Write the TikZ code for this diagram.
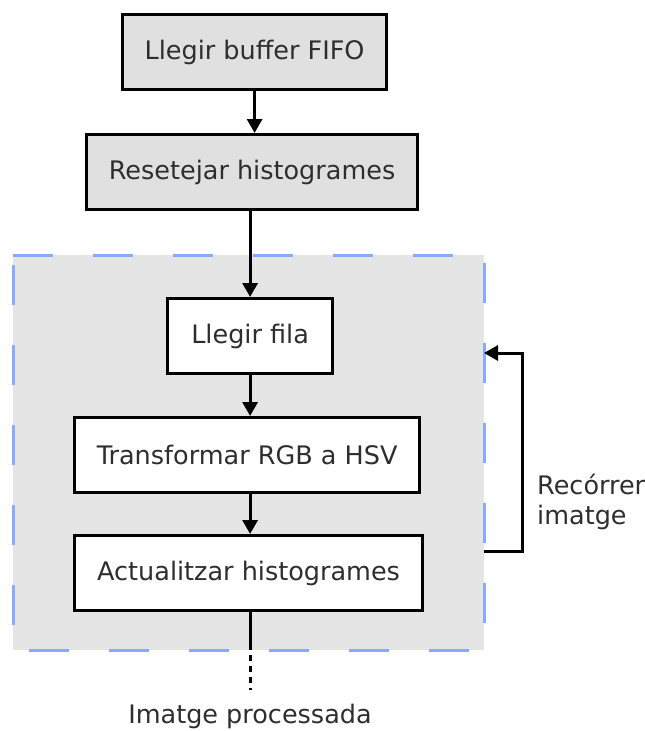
\documentclass[tikz,border=0pt]{standalone}
\usepackage{fontspec}
\setmainfont{DejaVu Sans}
\usetikzlibrary{arrows.meta}
\definecolor{boxgray}{HTML}{E0E0E0}
\definecolor{zonegray}{HTML}{E5E5E5}
\definecolor{dashblue}{HTML}{88AAFF}
\definecolor{ink}{HTML}{2E2E2E}
\begin{document}
\begin{tikzpicture}[x=1pt,y=-1pt,
  every node/.style={font=\fontsize{25.5}{30}\selectfont, text=ink},
  stepbox/.style={draw=black, line width=3.2pt, minimum height=75pt, inner sep=0pt, anchor=north west},
  flow/.style={line width=3pt, -{Triangle[width=15pt,length=14pt]}},
  zoneedge/.style={dashblue, line width=3pt, dash pattern=on 40pt off 40pt}]
\useasboundingbox (0,0) rectangle (645,731);
% processing zone
\fill[zonegray] (13,255) rectangle (484,650);
\draw[zoneedge] (13,255) -- (484,255);
\draw[zoneedge, dash phase=-8pt] (484,255) -- (484,650);
\draw[zoneedge, dash phase=-10pt] (13,255) -- (13,650);
\draw[zoneedge, dash phase=-16pt] (13,650) -- (484,650);
% steps
\node[stepbox, fill=boxgray, minimum width=264pt] (fifo) at (121,13) {Llegir buffer FIFO};
\node[stepbox, fill=boxgray, minimum width=331pt] (reset) at (85,133) {Resetejar histogrames};
\node[stepbox, fill=white, minimum width=165pt] (fila) at (166,297) {Llegir fila};
\node[stepbox, fill=white, minimum width=345pt] (hsv) at (73,416) {Transformar RGB a HSV};
\node[stepbox, fill=white, minimum width=348pt] (hist) at (73,534) {Actualitzar histogrames};
% connectors
\draw[flow] (fifo.south) -- (fifo.south |- reset.north);
\draw[flow] (reset.south -| fila.north) -- (fila.north);
\draw[flow] (fila.south) -- (fila.south |- hsv.north);
\draw[flow] (fila.south |- hsv.south) -- (fila.south |- hist.north);
% loop over the image
\coordinate (loopout) at (484,551);
\coordinate (loopin) at (484,353);
\draw[flow] (loopout) -- (522,551) -- (522,353) -- (loopin);
\node[anchor=west, align=left, inner sep=0pt] (loop) at (537,502) {Recórrer\\imatge};
% output
\coordinate (zoneexit) at (fila.south |- 0,650);
\coordinate (dotstart) at (fila.south |- 0,655);
\coordinate (outend) at (fila.south |- 0,690);
\node[inner sep=0pt] (out) at (250,716) {Imatge processada};
\draw[line width=3pt] (fila.south |- hist.south) -- (zoneexit);
\draw[line width=3pt, dash pattern=on 6pt off 5pt] (dotstart) -- (outend);
\end{tikzpicture}
\end{document}
